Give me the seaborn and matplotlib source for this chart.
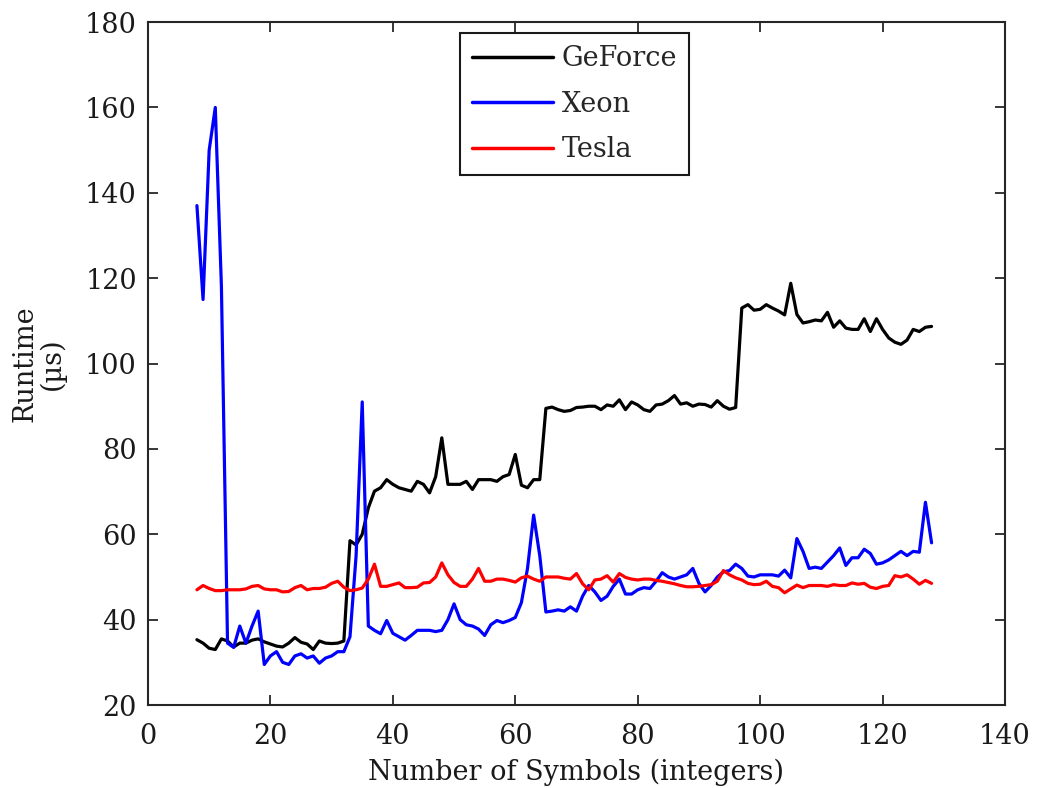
import numpy as np
import pandas as pd
import matplotlib
matplotlib.use('Agg')
import matplotlib.pyplot as plt
import seaborn as sns

# number of symbols on the x axis, one sample per integer
symbols = list(range(8, 129))

geforce = [35.3, 34.5, 33.3, 33.0, 35.5, 35.0, 33.6, 34.5, 34.5, 35.2,
           35.5, 34.8, 34.3, 33.8, 33.6, 34.5, 35.8, 34.7, 34.3, 33.0,
           35.0, 34.5, 34.4, 34.5, 35.0, 58.5, 57.5, 60.0, 66.2, 70.1,
           70.9, 72.8, 71.7, 70.9, 70.5, 70.1, 72.4, 71.7, 69.7, 73.5,
           82.6, 71.7, 71.7, 71.7, 72.4, 70.5, 72.8, 72.8, 72.8, 72.4,
           73.5, 74.0, 78.7, 71.5, 70.9, 72.8, 72.8, 89.5, 89.8, 89.2,
           88.8, 89.0, 89.7, 89.8, 90.0, 90.0, 89.2, 90.3, 90.0, 91.5,
           89.2, 91.0, 90.3, 89.2, 88.8, 90.3, 90.5, 91.3, 92.5, 90.5,
           90.8, 90.0, 90.5, 90.4, 89.8, 91.3, 90.0, 89.3, 89.7, 113.0,
           113.8, 112.5, 112.7, 113.8, 113.0, 112.3, 111.4, 118.8, 111.5, 109.5,
           109.8, 110.2, 110.0, 112.0, 108.5, 110.0, 108.3, 108.0, 108.0, 110.5,
           107.5, 110.5, 108.0, 106.0, 105.0, 104.5, 105.5, 108.0, 107.5, 108.5,
           108.7]

xeon = [137.0, 115.0, 150.0, 160.0, 118.0, 34.5, 33.5, 38.5, 34.5, 38.5,
        42.0, 29.5, 31.5, 32.5, 30.0, 29.5, 31.5, 32.0, 31.0, 31.5,
        29.8, 31.0, 31.5, 32.5, 32.5, 36.0, 55.0, 91.0, 38.5, 37.5,
        36.7, 39.8, 36.8, 36.0, 35.2, 36.3, 37.5, 37.5, 37.5, 37.2,
        37.5, 40.0, 43.7, 40.0, 38.8, 38.5, 37.8, 36.3, 38.8, 39.8,
        39.3, 39.8, 40.5, 44.0, 52.0, 64.5, 55.0, 41.8, 42.0, 42.3,
        42.0, 43.0, 42.0, 45.5, 48.0, 46.5, 44.5, 45.5, 47.8, 49.5,
        46.0, 46.0, 47.0, 47.5, 47.3, 49.0, 51.0, 50.0, 49.5, 50.0,
        50.5, 52.0, 48.5, 46.5, 48.0, 50.0, 51.2, 51.5, 53.0, 52.0,
        50.2, 50.0, 50.5, 50.5, 50.5, 50.2, 51.6, 49.8, 59.0, 56.0,
        52.0, 52.3, 52.0, 53.5, 55.0, 56.8, 52.7, 54.5, 54.5, 56.5,
        55.5, 53.0, 53.3, 54.0, 55.0, 56.0, 55.0, 56.0, 55.8, 67.5,
        58.0]

tesla = [47.0, 48.0, 47.3, 46.8, 46.8, 47.0, 47.0, 47.0, 47.2, 47.8,
         48.0, 47.2, 47.0, 47.0, 46.5, 46.6, 47.5, 48.0, 47.0, 47.3,
         47.3, 47.6, 48.5, 49.0, 47.6, 46.8, 47.0, 47.4, 49.5, 53.0,
         47.8, 47.8, 48.2, 48.6, 47.5, 47.5, 47.6, 48.6, 48.7, 50.0,
         53.3, 50.5, 48.7, 47.8, 47.8, 49.5, 52.0, 49.0, 49.0, 49.5,
         49.5, 49.2, 48.8, 49.8, 50.2, 49.5, 49.0, 50.0, 50.0, 50.0,
         49.7, 49.5, 50.8, 48.4, 47.0, 49.3, 49.5, 50.3, 48.8, 50.8,
         49.9, 49.5, 49.3, 49.5, 49.5, 49.2, 49.0, 48.7, 48.4, 48.0,
         47.7, 47.7, 47.8, 48.0, 48.2, 49.0, 51.5, 50.5, 49.8, 49.3,
         48.5, 48.2, 48.3, 49.0, 47.8, 47.5, 46.3, 47.2, 48.1, 47.5,
         48.0, 48.0, 48.0, 47.8, 48.2, 48.0, 48.0, 48.6, 48.3, 48.5,
         47.6, 47.3, 47.8, 48.0, 50.3, 50.0, 50.5, 49.5, 48.3, 49.2,
         48.5]

devices = ['GeForce', 'Xeon', 'Tesla']
colors = {'GeForce': '#000000', 'Xeon': '#0000ff', 'Tesla': '#ff0000'}

df = pd.DataFrame({
    'symbols': symbols * 3,
    'runtime': geforce + xeon + tesla,
    'device': ['GeForce'] * len(symbols) + ['Xeon'] * len(symbols) + ['Tesla'] * len(symbols),
})

sns.set_style('ticks')
plt.rcParams['font.family'] = ['DejaVu Serif']

fs = 19.5
fig, ax = plt.subplots(figsize=(10.39, 7.88), dpi=100)
fig.subplots_adjust(left=0.1424, right=0.9673, bottom=0.1053, top=0.972)

sns.lineplot(data=df, x='symbols', y='runtime', hue='device', hue_order=devices,
             palette=colors, estimator=None, linewidth=2.3, ax=ax)

ax.set_xlim(0, 140)
ax.set_ylim(20, 180)
ax.set_xticks(range(0, 141, 20))
ax.set_yticks(range(20, 181, 20))

for s in ax.spines.values():
    s.set_visible(True)
    s.set_linewidth(1.5)
    s.set_color('#262626')
ax.tick_params(direction='in', top=True, right=True, length=7, width=1.3,
               labelsize=fs, pad=8, colors='#262626', labelcolor='#1a1a1a')
ax.tick_params(axis='x', pad=13)

ax.set_xlabel('Number of Symbols (integers)', fontsize=fs, color='#1a1a1a', labelpad=6)
ax.set_ylabel('Runtime\n(µs)', fontsize=fs, color='#1a1a1a', linespacing=1.0, labelpad=14)

leg = ax.legend(loc='upper left', bbox_to_anchor=(0.364, 0.984), fontsize=fs,
                frameon=True, fancybox=False, edgecolor='#1a1a1a', framealpha=1,
                handlelength=3.0, handletextpad=0.3, labelspacing=0.68,
                borderaxespad=0, borderpad=0.45)
leg.get_frame().set_linewidth(1.5)
for line in leg.get_lines():
    line.set_linewidth(2.5)

fig.savefig('out.png', dpi=100)
